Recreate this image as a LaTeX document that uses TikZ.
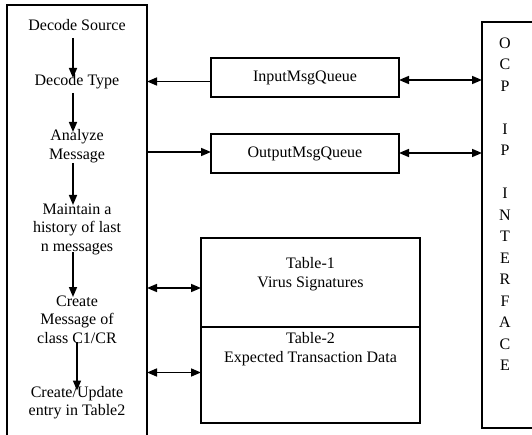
\documentclass[tikz,border=0pt]{standalone}
\usepackage{fontspec}
\setmainfont{Liberation Serif}
\usetikzlibrary{arrows.meta,calc}
\begin{document}
\begin{tikzpicture}[x=1pt,y=-1pt,
  every node/.style={font=\fontsize{16pt}{18.5pt}\selectfont, inner sep=0pt, outer sep=0pt},
  box/.style={draw, line width=1.4pt},
  txt/.style={align=center},
  flow/.style={line width=1.6pt, -{Triangle[length=10pt,width=8pt]}},
  both/.style={line width=1.6pt, {Triangle[length=10pt,width=8pt]}-{Triangle[length=10pt,width=8pt]}}]
\useasboundingbox (0,0) rectangle (532,435);
\clip (0,0) rectangle (532,435);
% left processing column
\node[box, anchor=north west, minimum width=140pt, minimum height=445pt] (lb) at (7,5) {};
\node[txt] (ds) at (77,25) {Decode Source};
\node[txt] (dt) at (77,82) {Decode Type};
\node[txt] (am) at (77,146) {Analyze\\Message};
\node[txt] (mh) at (77,229) {Maintain a\\history of last\\n messages};
\node[txt] (cm) at (77,319.5) {Create\\Message of\\class C1/CR};
\node[txt] (cu) at (77,402.5) {Create/Update\\entry in Table2};
\draw[flow] ($(ds.center)+(-4,13)$) -- ($(dt.center)+(-4,-4)$);
\draw[flow] ($(dt.center)+(-4,11)$) -- ($(am.center)+(-4,-14)$);
\draw[flow] ($(am.center)+(-4,17)$) -- ($(mh.center)+(-4,-24)$);
\draw[flow] ($(mh.center)+(-4,23)$) -- ($(cm.center)+(-4,-22.5)$);
\draw[flow] ($(cm.center)+(0,22.5)$) -- ($(cu.center)+(0,-12)$);
% queues
\node[box, minimum width=188pt, minimum height=39pt] (in) at (305,77.5) {InputMsgQueue};
\node[box, minimum width=188pt, minimum height=39pt] (out) at (305,153.5) {OutputMsgQueue};
% tables
\node[box, anchor=north west, minimum width=219pt, minimum height=89pt] (t1) at (201,238) {};
\node[box, anchor=north west, minimum width=219pt, minimum height=96pt] (t2) at (201,327) {};
\node[txt, anchor=north] (t1l) at ($(t1.north)+(0,19.5)$) {Table-1\\Virus Signatures};
\node[txt, anchor=north] (t2l) at ($(t2.north)+(0,5.5)$) {Table-2\\Expected Transaction Data};
% OCP interface
\node[box, anchor=north west, minimum width=70pt, minimum height=406pt] (ocp) at (482,22) {};
\node[font=\fontsize{16pt}{21.5pt}\selectfont, align=center, anchor=north] (ocpt) at (505,37.5)
  {O\\C\\P\\[21.5pt]I\\P\\[21.5pt]I\\N\\T\\E\\R\\F\\A\\C\\E};
% connectors
\coordinate (a1) at ($(in.west)+(0,4)$);
\draw[flow] (a1) -- (a1 -| lb.east);
\coordinate (a2) at ($(in.east)+(0,2.5)$);
\draw[both] (a2) -- (a2 -| ocp.west);
\coordinate (a3) at ($(out.west)+(0,-1.5)$);
\draw[flow] (a3 -| lb.east) -- (a3);
\coordinate (a4) at ($(out.east)+(0,-0.5)$);
\draw[both] (a4) -- (a4 -| ocp.west);
\coordinate (a5) at ($(t1.west)+(0,5.5)$);
\draw[both] (a5 -| lb.east) -- (a5);
\coordinate (a6) at ($(t2.west)+(0,-2.5)$);
\draw[both] (a6 -| lb.east) -- (a6);
\end{tikzpicture}
\end{document}
